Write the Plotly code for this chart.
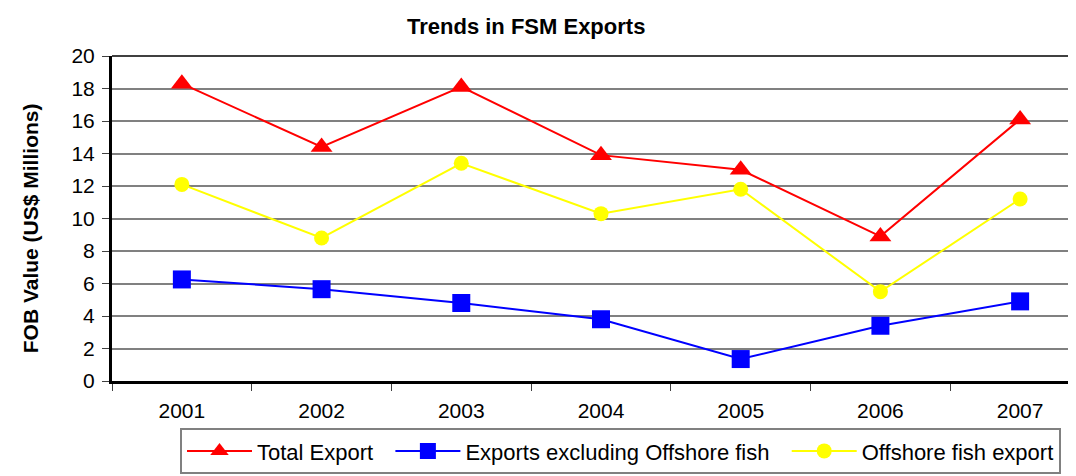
import plotly.graph_objects as go

years = ["2001", "2002", "2003", "2004", "2005", "2006", "2007"]
total_export = [18.3, 14.4, 18.1, 13.9, 13.0, 8.9, 16.1]
exports_excl_offshore = [6.25, 5.65, 4.8, 3.8, 1.35, 3.4, 4.9]
offshore_fish = [12.1, 8.8, 13.4, 10.3, 11.8, 5.5, 11.2]
series_names = ["Total Export", "Exports excluding Offshore fish", "Offshore fish export"]
y_ticks = [0, 2, 4, 6, 8, 10, 12, 14, 16, 18, 20]

FONT = "Liberation Sans, Arial, sans-serif"

W, H = 1068, 468
L, T, B = 104, 48, 95
PW = W - L
GAP = "\u00a0" * 2  # extra spacing between legend entries

fig = go.Figure()
fig.add_trace(go.Scatter(
    x=years, y=total_export, name=series_names[0] + GAP, mode="lines+markers",
    line=dict(color="#FF0000", width=2),
    marker=dict(symbol="triangle-up", size=19, color="#FF0000"),
))
fig.add_trace(go.Scatter(
    x=years, y=exports_excl_offshore, name=series_names[1] + GAP, mode="lines+markers",
    line=dict(color="#0000FF", width=2),
    marker=dict(symbol="square", size=18, color="#0000FF"),
))
fig.add_trace(go.Scatter(
    x=years, y=offshore_fish, name=series_names[2], mode="lines+markers",
    line=dict(color="#FFFF00", width=2),
    marker=dict(symbol="circle", size=15, color="#FFFF00"),
))

fig.update_layout(
    width=W, height=H,
    margin=dict(l=L, r=0, t=T, b=B, autoexpand=False),
    paper_bgcolor="white", plot_bgcolor="white",
    font=dict(family=FONT, size=20, color="black"),
    showlegend=True,
    legend=dict(
        orientation="h", x=(172 - L) / PW, xanchor="left", y=-0.145, yanchor="top",
        bordercolor="#808080", borderwidth=2, bgcolor="white",
        font=dict(family=FONT, size=22, color="black"),
        traceorder="normal", itemwidth=65,
    ),
    annotations=[
        dict(text="<b>Trends in FSM Exports</b>", xref="paper", yref="paper",
             x=(518 - L) / PW, y=1, yshift=30, xanchor="center", yanchor="middle",
             showarrow=False, font=dict(family=FONT, size=22, color="black")),
        dict(text="<b>FOB Value (US$ Millions)</b>", xref="paper", yref="paper",
             x=(22 - L) / PW, y=0.47, xanchor="center", yanchor="middle", textangle=-90,
             showarrow=False, font=dict(family=FONT, size=21, color="black")),
    ],
    shapes=[dict(type="line", xref="paper", yref="paper", x0=0, x1=1, y0=1, y1=1,
                 line=dict(color="black", width=1.5))],
)

fig.update_xaxes(
    type="category", range=[-0.5, 6.40],
    showline=True, linecolor="black", linewidth=3,
    ticks="outside", tickson="boundaries", ticklen=7, tickcolor="#404040", tickwidth=1,
    showgrid=False, tickfont=dict(family=FONT, size=21, color="black"),
    ticklabelstandoff=9,
)
fig.update_yaxes(
    range=[0, 20], tickvals=y_ticks,
    showline=True, linecolor="black", linewidth=3,
    ticks="outside", ticklen=7, tickcolor="#404040", tickwidth=1,
    showgrid=True, gridcolor="#808080", gridwidth=1.5,
    zeroline=False,
    tickfont=dict(family=FONT, size=21, color="black"),
    ticklabelstandoff=3,
)

fig.write_html("out.html")
